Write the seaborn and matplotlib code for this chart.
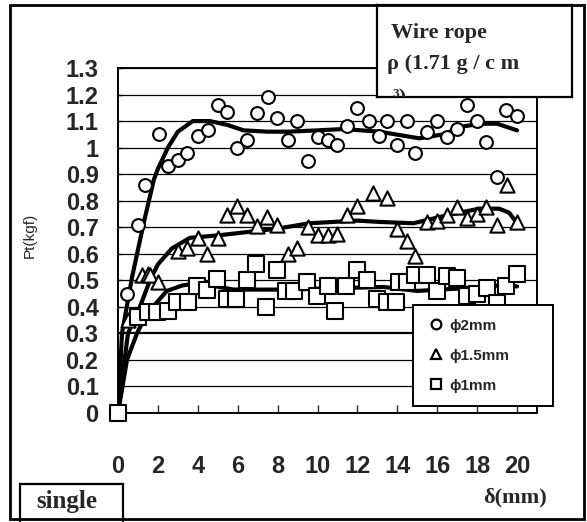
import matplotlib
matplotlib.use("Agg")
import matplotlib.pyplot as plt
import seaborn as sns
from matplotlib.lines import Line2D
from matplotlib.patches import Rectangle

# ---------------- data ----------------
# phi 2mm (circles)
d2_x = [0, 0.45, 1.0, 1.35, 2.05, 2.5, 3.0, 3.45, 4.0, 4.5, 5.0, 5.45, 5.95, 6.45,
        6.95, 7.5, 7.95, 8.5, 8.95, 9.5, 10.0, 10.5, 11.0, 11.5, 12.0, 12.6, 13.1,
        13.5, 14.0, 14.5, 14.9, 15.5, 16.0, 16.5, 17.0, 17.5, 18.0, 18.45, 19.0,
        19.45, 20.0]
d2_y = [0, 0.45, 0.71, 0.86, 1.05, 0.93, 0.955, 0.98, 1.045, 1.065, 1.16, 1.135,
        1.0, 1.03, 1.13, 1.19, 1.11, 1.03, 1.10, 0.95, 1.04, 1.03, 1.01, 1.08, 1.15,
        1.10, 1.045, 1.10, 1.01, 1.10, 0.98, 1.06, 1.10, 1.04, 1.07, 1.16, 1.10,
        1.02, 0.89, 1.14, 1.12]

# phi 1.5mm (triangles)
d15_x = [0, 0.5, 1.2, 1.5, 1.6, 2.0, 3.0, 3.45, 4.0, 4.45, 5.0, 5.45, 5.95, 6.45,
         6.95, 7.45, 7.95, 8.5, 8.95, 9.5, 10.0, 10.5, 11.0, 11.5, 12.0, 12.8, 13.5,
         14.0, 14.5, 14.9, 15.5, 16.0, 16.5, 17.0, 17.5, 18.0, 18.45, 19.0, 19.5, 20.0]
d15_y = [0, 0.35, 0.52, 0.525, 0.52, 0.495, 0.61, 0.62, 0.66, 0.60, 0.66, 0.745,
         0.78, 0.745, 0.705, 0.74, 0.71, 0.60, 0.62, 0.70, 0.67, 0.67, 0.675, 0.745,
         0.78, 0.83, 0.81, 0.695, 0.65, 0.59, 0.72, 0.725, 0.745, 0.775, 0.735, 0.75,
         0.775, 0.71, 0.86, 0.72]

# phi 1mm (squares)
d1_x = [0, 1.0, 1.5, 1.95, 2.5, 2.95, 3.5, 3.95, 4.45, 4.95, 5.45, 5.9, 6.45, 6.9,
        7.4, 7.95, 8.4, 8.8, 9.45, 9.95, 10.5, 10.9, 11.45, 12.0, 12.5, 13.0, 13.5,
        13.95, 14.1, 14.5, 14.9, 15.5, 16.0, 16.5, 17.0, 17.5, 18.0, 18.5, 19.0,
        19.45, 20.0]
d1_y = [0, 0.36, 0.38, 0.38, 0.385, 0.42, 0.42, 0.48, 0.465, 0.505, 0.43, 0.43,
        0.50, 0.56, 0.40, 0.54, 0.46, 0.46, 0.495, 0.44, 0.48, 0.385, 0.48, 0.54,
        0.50, 0.43, 0.42, 0.42, 0.495, 0.495, 0.52, 0.52, 0.46, 0.515, 0.51, 0.44,
        0.45, 0.47, 0.415, 0.48, 0.525]

# fitted curves
c2_x = [0, 0.2, 0.7, 1.3, 1.8, 2.0, 2.5, 3.0, 3.75, 4.6, 5.5, 6.3, 7.5, 8.5, 10.0,
        11.3, 13.1, 15.1, 16.3, 17.3, 18.2, 19.0, 20.0]
c2_y = [0, 0.3, 0.51, 0.72, 0.88, 0.92, 1.0, 1.06, 1.10, 1.10, 1.085, 1.065, 1.06,
        1.06, 1.065, 1.07, 1.06, 1.035, 1.05, 1.08, 1.09, 1.09, 1.065]
c15_x = [0, 0.5, 1.1, 1.6, 2.0, 2.35, 2.7, 3.6, 5.1, 8.0, 9.6, 12.0, 13.1, 14.8,
         16.5, 18.1, 19.1, 19.6, 20.0]
c15_y = [0, 0.3, 0.4, 0.5, 0.56, 0.59, 0.62, 0.66, 0.67, 0.695, 0.715, 0.725, 0.72,
         0.715, 0.745, 0.77, 0.77, 0.755, 0.715]
c1_x = [0, 0.45, 0.95, 1.35, 1.75, 2.45, 3.2, 3.95, 5.8, 8.5, 10.8, 13.3, 15.0,
        17.3, 19.0, 20.0]
c1_y = [0, 0.2, 0.3, 0.36, 0.4, 0.46, 0.48, 0.49, 0.465, 0.465, 0.47, 0.475, 0.46,
        0.47, 0.48, 0.477]

x_ticks = [0, 2, 4, 6, 8, 10, 12, 14, 16, 18, 20]
y_ticks = [0, 0.1, 0.2, 0.3, 0.4, 0.5, 0.6, 0.7, 0.8, 0.9, 1, 1.1, 1.2, 1.3]
y_tick_labels = ["0", "0.1", "0.2", "0.3", "0.4", "0.5", "0.6", "0.7", "0.8",
                 "0.9", "1", "1.1", "1.2", "1.3"]
legend_labels = ["ϕ2mm", "ϕ1.5mm", "ϕ1mm"]

# ---------------- plot ----------------
sns.set_style("white")
plt.rcParams["font.family"] = ["Liberation Sans", "DejaVu Sans"]

fig = plt.figure(figsize=(5.87, 5.22), dpi=100)
ax = fig.add_axes([118 / 587, 1 - 413 / 522, 419 / 587, 345 / 522])

for y in y_ticks[1:]:
    ax.axhline(y, color="black", lw=1.6 if y == 0.3 else 0.9, zorder=1)

# fitted curves
for cx, cy in [(c2_x, c2_y), (c15_x, c15_y), (c1_x, c1_y)]:
    sns.lineplot(x=cx, y=cy, color="black", lw=3, sort=False, ax=ax, zorder=2)

# measured points
for sx, sy, m, s in [(d2_x, d2_y, "o", 85), (d15_x, d15_y, "^", 105),
                     (d1_x, d1_y, "s", 120)]:
    sns.scatterplot(x=sx, y=sy, marker=m, s=s, color="white", edgecolor="black",
                    linewidth=1.5, ax=ax, zorder=3, clip_on=False, legend=False)

ax.set_xlim(0, 21)
ax.set_ylim(0, 1.3)
ax.set_xticks(x_ticks)
ax.set_xticklabels([str(t) for t in x_ticks], fontsize=17, fontweight="bold")
ax.set_yticks(y_ticks)
ax.set_yticklabels(y_tick_labels, fontsize=17, fontweight="bold")
ax.tick_params(axis="x", direction="in", length=6, width=1, pad=30, bottom=True)
ax.tick_params(axis="y", direction="in", length=3, width=1, pad=14, left=True)
for sp in ax.spines.values():
    sp.set_color("black")
    sp.set_linewidth(1.4)

ax.set_ylabel("Pt(kgf)", fontsize=11)
ax.yaxis.set_label_coords(-0.193, 0.516)

# legend
handles = [Line2D([], [], marker=m, ls="none", markersize=7, markerfacecolor="white",
                  markeredgecolor="black", markeredgewidth=1.6)
           for m in ["o", "^", "s"]]
leg = ax.legend(handles, legend_labels, loc="upper left",
                bbox_to_anchor=(413 / 587, 1 - 310 / 522, 140 / 587, 0.01),
                bbox_transform=fig.transFigure, mode="expand", borderaxespad=0,
                frameon=True, fancybox=False, framealpha=1, edgecolor="black",
                prop={"family": ["Liberation Sans", "DejaVu Sans"], "weight": "bold",
                      "size": 11},
                labelspacing=1.05, handletextpad=0.3, borderpad=0.9,
                handlelength=1.2)
leg.get_frame().set_linewidth(1.4)
leg.set_zorder(5)

# "Wire rope" box
serif = ["Liberation Serif", "DejaVu Serif"]
bx = fig.add_axes([377 / 587, 1 - 97 / 522, 195 / 587, 92 / 522])
bx.set_xticks([])
bx.set_yticks([])
for sp in bx.spines.values():
    sp.set_color("black")
    sp.set_linewidth(1.6)
bx.text(0.07, 0.70, "Wire rope", transform=bx.transAxes, fontsize=16,
        fontweight="bold", family=serif, va="center")
bx.text(0.05, 0.36, "ρ (1.71 g / c m", transform=bx.transAxes, fontsize=16,
        fontweight="bold", family=serif, va="center")
bx.text(0.08, -0.02, "³)", transform=bx.transAxes, fontsize=16,
        fontweight="bold", family=serif, va="center", clip_on=True)

# "single" box
sb = fig.add_axes([20 / 587, 0, 103 / 587, 38 / 522])
sb.set_xticks([])
sb.set_yticks([])
sb.spines["bottom"].set_visible(False)
for sp in ["left", "right", "top"]:
    sb.spines[sp].set_color("black")
    sb.spines[sp].set_linewidth(1.6)
sb.text(0.45, 0.55, "single", transform=sb.transAxes, fontsize=18,
        fontweight="bold", family=serif, ha="center", va="center")

fig.text(515 / 587, 1 - 497 / 522, "δ(mm)", fontsize=16, fontweight="bold",
         family=serif, ha="center", va="center")

# outer frame
fig.patches.append(Rectangle((10 / 587, 3 / 522), 574 / 587, 514 / 522,
                             transform=fig.transFigure, fill=False,
                             edgecolor="black", lw=2))

fig.savefig("out.png", dpi=100)
